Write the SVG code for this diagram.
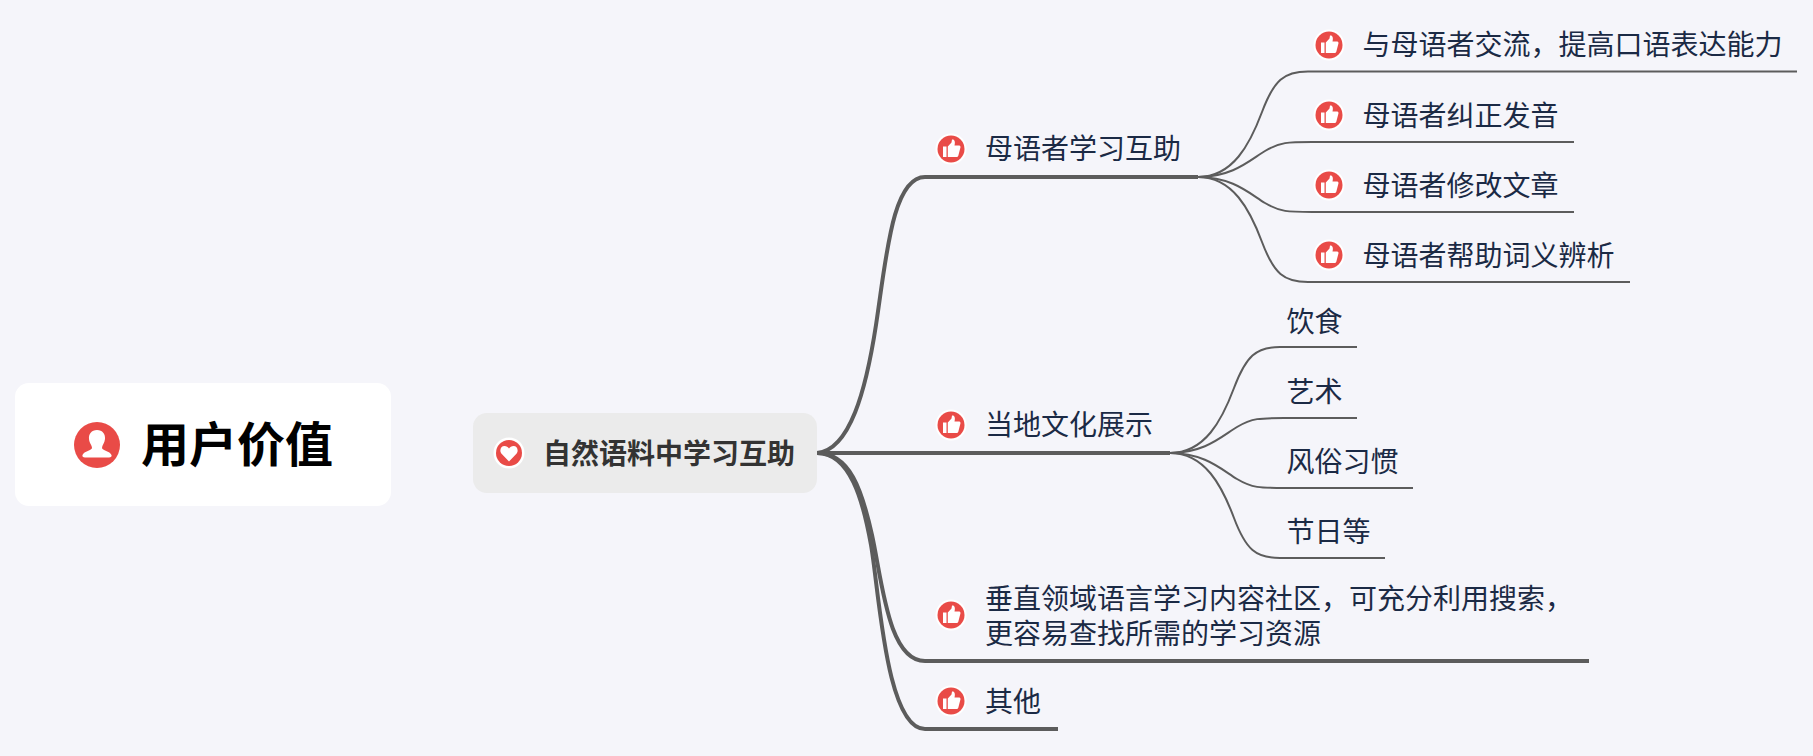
<svg xmlns="http://www.w3.org/2000/svg" width="1813" height="756" viewBox="0 0 1813 756">
<style>
text{font-family:"Noto Sans CJK SC","Noto Sans",sans-serif;font-size:28px;fill:#1b2a45}
.root{font-size:48px;font-weight:700;fill:#000}
.main{font-weight:700;fill:#333}
.c{fill:none;stroke:#5c5c5c;stroke-linecap:butt}
.w4{stroke-width:4}
.w2{stroke-width:2}
</style>
<defs>
<g id="thumb">
<circle r="15.5" fill="#fff"/>
<circle r="13.5" fill="#e94b47"/>
<path fill="#fff" d="M-8 -2.500H-4.500V8H-8ZM-3.200 -2.500L0.500 -6.500L1 -9.500C3.500 -10 4.500 -7.500 3.500 -3.500H8.200C9.500 -3.500 9.800 -2 9.300 -1L7.300 6.800C7 7.800 6.300 8 5.500 8H-3.200Z"/>
</g>
</defs>
<rect width="1813" height="756" fill="#f5f5fa"/>
<g id="connectors">
<path class="c w4" d="M817 453C850 450 866 390 876 325S892 177 925 177H1198"/>
<path class="c w4" d="M817 453H1170"/>
<path class="c w4" d="M817 453C850 453 862 490 872 535S888 661 925 661H1589"/>
<path class="c w4" d="M817 453C850 453 863 500 871 545S886 729 925 729H1058"/>
<path class="c w2" d="M1198 177C1233 177 1250 144 1262 112S1284 71.500 1308 71.500H1797"/>
<path class="c w2" d="M1198 177C1233 177 1250 160 1265 151S1288 142 1312 142H1574"/>
<path class="c w2" d="M1198 177C1233 177 1250 194 1265 203S1288 212 1312 212H1574"/>
<path class="c w2" d="M1198 177C1233 177 1250 210 1262 242S1284 282 1308 282H1630"/>
<path class="c w2" d="M1170 453C1205 453 1222 420 1234 388S1256 347 1280 347H1357"/>
<path class="c w2" d="M1170 453C1205 453 1222 436 1237 427S1260 418 1284 418H1357"/>
<path class="c w2" d="M1170 453C1205 453 1222 470 1237 479S1260 488 1284 488H1413"/>
<path class="c w2" d="M1170 453C1205 453 1222 486 1234 518S1256 558 1280 558H1385"/>
</g>
<g id="root">
<rect x="15" y="383" width="376" height="123" rx="14" fill="#fff"/>
<circle cx="97" cy="445" r="23" fill="#e94b47"/>
<path fill="#fff" d="M97 430C102.500 430 105.500 434 105 439C104.700 443 102 445.500 102 448C102 450.500 110 451 111.500 455C112 456.500 111 457.500 109 457.500H85C83 457.500 82 456.500 82.500 455C84 451 92 450.500 92 448C92 445.500 89.300 443 89 439C88.500 434 91.500 430 97 430Z"/>
<text class="root" x="141" y="462">用户价值</text>
</g>
<g id="main">
<rect x="473" y="413" width="344" height="80" rx="14" fill="#ebebeb"/>
<circle cx="509" cy="453" r="15.500" fill="#fff"/>
<circle cx="509" cy="453" r="13" fill="#e94b47"/>
<path fill="#fff" d="M509 461.500L501.800 454C499 451 500.500 446 504.500 446C506.500 446 508 447 509 448.500C510 447 511.500 446 513.500 446C517.500 446 519 451 516.200 454Z"/>
<text class="main" x="543" y="464">自然语料中学习互助</text>
</g>
<g id="n1"><use href="#thumb" x="951" y="149"/><text x="985" y="159">母语者学习互助</text></g>
<g id="n11"><use href="#thumb" x="1329" y="45"/><text x="1362.500" y="55">与母语者交流，提高口语表达能力</text></g>
<g id="n12"><use href="#thumb" x="1329" y="115"/><text x="1362.500" y="126">母语者纠正发音</text></g>
<g id="n13"><use href="#thumb" x="1329" y="185"/><text x="1362.500" y="196">母语者修改文章</text></g>
<g id="n14"><use href="#thumb" x="1329" y="255"/><text x="1362.500" y="266">母语者帮助词义辨析</text></g>
<g id="n2"><use href="#thumb" x="951" y="425"/><text x="985" y="435">当地文化展示</text></g>
<g id="n21"><text x="1286.500" y="332">饮食</text></g>
<g id="n22"><text x="1286.500" y="402">艺术</text></g>
<g id="n23"><text x="1286.500" y="472">风俗习惯</text></g>
<g id="n24"><text x="1286.500" y="542">节日等</text></g>
<g id="n3"><use href="#thumb" x="951" y="615"/><text x="985" y="609">垂直领域语言学习内容社区，可充分利用搜索，<tspan x="985" y="644">更容易查找所需的学习资源</tspan></text></g>
<g id="n4"><use href="#thumb" x="951" y="701"/><text x="985" y="712">其他</text></g>
</svg>
